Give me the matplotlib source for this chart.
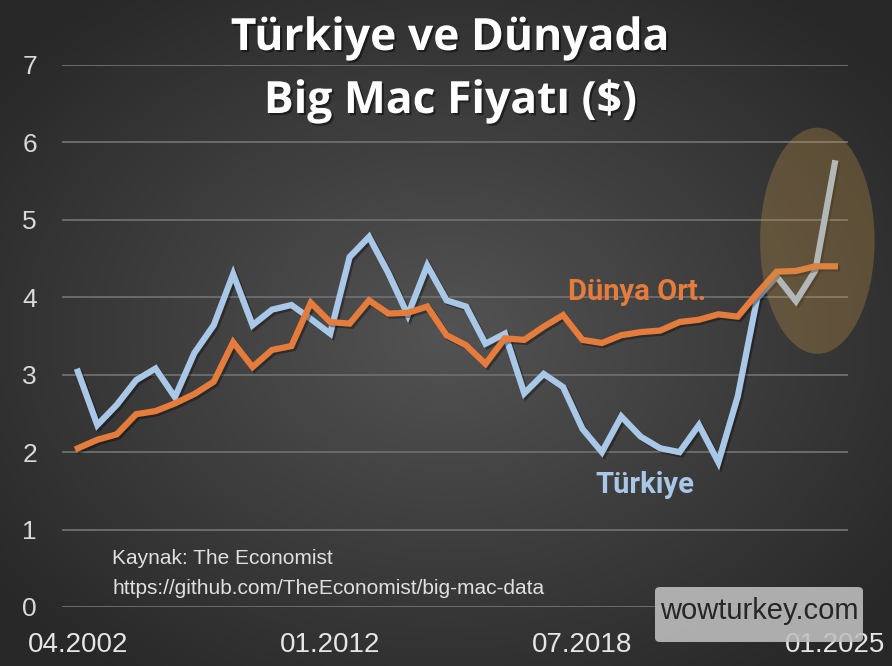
import numpy as np
import matplotlib
matplotlib.use("Agg")
import matplotlib.pyplot as plt
from matplotlib.patches import Ellipse, FancyBboxPatch
import matplotlib.patheffects as pe

dates = ["04.2002", "04.2003", "05.2004", "06.2005", "01.2006", "05.2006", "01.2007", "06.2007",
         "06.2008", "07.2009", "01.2010", "07.2010", "07.2011", "01.2012", "07.2012", "01.2013",
         "07.2013", "01.2014", "07.2014", "01.2015", "07.2015", "01.2016", "07.2016", "01.2017",
         "07.2017", "01.2018", "07.2018", "01.2019", "07.2019", "01.2020", "07.2020", "01.2021",
         "07.2021", "01.2022", "07.2022", "01.2023", "07.2023", "01.2024", "07.2024", "01.2025"]

turkiye = [3.04, 2.35, 2.61, 2.93, 3.08, 2.71, 3.28, 3.64, 4.30, 3.64, 3.84, 3.90, 3.72, 3.53,
           4.52, 4.78, 4.31, 3.77, 4.41, 3.96, 3.88, 3.40, 3.53, 2.76, 3.01, 2.84, 2.30, 2.00,
           2.46, 2.20, 2.05, 2.00, 2.35, 1.87, 2.72, 3.99, 4.27, 3.95, 4.35, 5.73]

dunya = [2.05, 2.16, 2.23, 2.49, 2.53, 2.63, 2.75, 2.91, 3.42, 3.10, 3.32, 3.37, 3.93, 3.68,
         3.66, 3.96, 3.79, 3.80, 3.88, 3.51, 3.38, 3.14, 3.47, 3.45, 3.62, 3.77, 3.45, 3.41,
         3.51, 3.55, 3.57, 3.68, 3.71, 3.78, 3.75, 4.05, 4.33, 4.34, 4.40, 4.40]

shown_ticks = ["04.2002", "01.2012", "07.2018", "01.2025"]
yticks = [0, 1, 2, 3, 4, 5, 6, 7]

W, H = 892, 666
fig = plt.figure(figsize=(W / 100, H / 100), dpi=100)

# background radial gradient
bg = fig.add_axes([0, 0, 1, 1], zorder=-10)
yy, xx = np.mgrid[0:1:300j, 0:1:400j]
cx, cy = 0.50, 0.50
r = np.sqrt(((xx - cx) / 0.75) ** 2 + ((yy - cy) / 0.75) ** 2)
inner = np.array([0x53, 0x53, 0x53]) / 255
outer = np.array([0x28, 0x28, 0x28]) / 255
t = np.clip(r / 0.85, 0, 1)[..., None]
img = inner * (1 - t) + outer * t
bg.imshow(img, extent=[0, 1, 0, 1], aspect="auto", origin="upper")
bg.axis("off")

left, right = 62 / W, 848 / W
bottom, top = 1 - 607 / H, 1 - 65 / H
ax = fig.add_axes([left, bottom, right - left, top - bottom])
ax.set_facecolor("none")

x = np.arange(len(dates))
ax.set_xlim(-0.82, 39.68)
ax.set_ylim(0, 7)

for v in yticks:
    ax.axhline(v, color="#6b6b6b", lw=1.4, zorder=1)

shadow = [pe.SimpleLineShadow(offset=(1.5, -1.5), shadow_color="black", alpha=0.35), pe.Normal()]
ax.plot(x, turkiye, color="#a9c7e7", lw=4.5, solid_joinstyle="miter", zorder=3, path_effects=shadow)
ax.plot(x, dunya, color="#e57c3c", lw=4.5, solid_joinstyle="miter", zorder=4, path_effects=shadow)

ell = Ellipse((38.1, 4.73), width=5.9, height=2.92, facecolor="#c79548", alpha=0.3,
              edgecolor="none", zorder=5, clip_on=False)
ax.add_patch(ell)

for s in ax.spines.values():
    s.set_visible(False)

tickfont = ["Liberation Sans", "DejaVu Sans"]
ax.set_yticks(yticks)
ax.set_yticklabels([str(v) for v in yticks])
ax.tick_params(axis="y", length=0, pad=18, labelsize=19, labelcolor="#d9d9d9")
for lab in ax.get_yticklabels():
    lab.set_fontfamily(tickfont)

ax.set_xticks([dates.index(d) for d in shown_ticks])
ax.set_xticklabels(shown_ticks)
ax.tick_params(axis="x", length=0, pad=18, labelsize=20, labelcolor="#e6e6e6")
for lab in ax.get_xticklabels():
    lab.set_fontfamily(tickfont)

title_fx = [pe.SimplePatchShadow(offset=(1.5, -1.5), shadow_rgbFace="black", alpha=0.45), pe.Normal()]
for txt, yb in [("Türkiye ve Dünyada", 50), ("Big Mac Fiyatı ($)", 113)]:
    fig.text(0.505, 1 - yb / H, txt, ha="center", va="baseline", color="white",
             fontsize=32, fontweight="bold", family="Open Sans", path_effects=title_fx)

fig.text(568 / W, 1 - 300 / H, "Dünya Ort.", ha="left", va="baseline", color="#e57c3c",
         fontsize=21, fontweight="bold", family="Roboto")
fig.text(595 / W, 1 - 493 / H, "Türkiye", ha="left", va="baseline", color="#a9c7e7",
         fontsize=21, fontweight="bold", family="Roboto")

fig.text(112 / W, 1 - 558 / H, "Kaynak: The Economist", ha="left", va="center", color="#e0e0e0",
         fontsize=15, family=tickfont)
fig.text(112 / W, 1 - 588 / H, "https://github.com/TheEconomist/big-mac-data", ha="left", va="center",
         color="#e0e0e0", fontsize=15, family=tickfont)

box = FancyBboxPatch((655 / W, 1 - 642 / H), (863 - 655) / W, (642 - 587) / H,
                     boxstyle="round,pad=0,rounding_size=0.006", transform=fig.transFigure,
                     facecolor="#c0c0c0", alpha=0.88, edgecolor="none", zorder=6)
fig.patches.append(box)
fig.text(759 / W, 1 - 611 / H, "wowturkey.com", ha="center", va="center", color="#262626",
         fontsize=21, family=tickfont, zorder=7)

fig.savefig("out.png", dpi=100)
